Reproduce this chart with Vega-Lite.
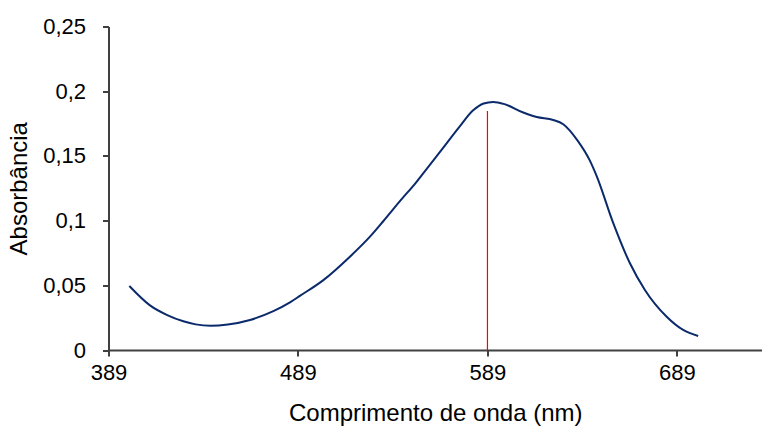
{
  "$schema": "https://vega.github.io/schema/vega-lite/v6.json",
  "autosize": "none",
  "width": 653.5,
  "height": 323.5,
  "padding": {"left": 108.5, "top": 26.5, "right": 0, "bottom": 85},
  "background": "white",
  "config": {
    "view": {"stroke": null},
    "font": "Liberation Sans",
    "axis": {
      "grid": false,
      "domainColor": "#404040",
      "domainWidth": 2,
      "tickColor": "#404040",
      "tickWidth": 2,
      "tickSize": 6,
      "labelFlush": false,
      "labelOverlap": false,
      "labelFont": "Liberation Sans",
      "titleFont": "Liberation Sans",
      "labelFontSize": 22,
      "titleFontSize": 24,
      "labelColor": "black",
      "titleColor": "black",
      "titleFontWeight": "normal"
    }
  },
  "datasets": {
    "curve": [
      {"nm": 400.0, "abs": 0.0495},
      {"nm": 410.9, "abs": 0.0345},
      {"nm": 420.0, "abs": 0.0270},
      {"nm": 428.5, "abs": 0.0222},
      {"nm": 435.0, "abs": 0.0198},
      {"nm": 443.0, "abs": 0.0187},
      {"nm": 452.0, "abs": 0.0197},
      {"nm": 463.7, "abs": 0.0232},
      {"nm": 476.0, "abs": 0.0300},
      {"nm": 485.0, "abs": 0.0370},
      {"nm": 490.0, "abs": 0.0418},
      {"nm": 502.4, "abs": 0.0540},
      {"nm": 516.4, "abs": 0.0721},
      {"nm": 527.0, "abs": 0.0876},
      {"nm": 534.0, "abs": 0.0995},
      {"nm": 542.8, "abs": 0.1150},
      {"nm": 551.6, "abs": 0.1300},
      {"nm": 555.1, "abs": 0.1365},
      {"nm": 565.5, "abs": 0.1560},
      {"nm": 574.5, "abs": 0.1730},
      {"nm": 581.3, "abs": 0.1850},
      {"nm": 587.0, "abs": 0.1905},
      {"nm": 592.0, "abs": 0.1917},
      {"nm": 598.0, "abs": 0.1900},
      {"nm": 607.9, "abs": 0.1835},
      {"nm": 615.0, "abs": 0.1800},
      {"nm": 623.7, "abs": 0.1778},
      {"nm": 629.0, "abs": 0.1745},
      {"nm": 636.5, "abs": 0.1620},
      {"nm": 643.0, "abs": 0.1465},
      {"nm": 646.6, "abs": 0.1345},
      {"nm": 655.4, "abs": 0.0980},
      {"nm": 664.2, "abs": 0.0670},
      {"nm": 672.1, "abs": 0.0464},
      {"nm": 683.6, "abs": 0.0257},
      {"nm": 692.3, "abs": 0.0155},
      {"nm": 700.2, "abs": 0.0108}
    ],
    "marker": [
      {"nm": 589, "y0": 0, "y1": 0.1847}
    ]
  },
  "layer": [
    {
      "mark": {"type": "rule", "stroke": "#000000", "strokeWidth": 2},
      "encoding": {
        "y": {"datum": 0.25, "type": "quantitative"}
      }
    },
    {
      "data": {"name": "curve"},
      "mark": {"type": "line", "interpolate": "monotone", "stroke": "#0b2a6b", "strokeWidth": 2},
      "encoding": {
        "x": {
          "field": "nm", "type": "quantitative",
          "scale": {"domain": [389, 733.9], "nice": false, "zero": false},
          "axis": {"values": [389, 489, 589, 689], "title": "Comprimento de onda (nm)", "labelPadding": 6, "titlePadding": 18}
        },
        "y": {
          "field": "abs", "type": "quantitative",
          "scale": {"domain": [0, 0.25], "nice": false},
          "axis": {
            "values": [0, 0.05, 0.1, 0.15, 0.2, 0.25],
            "labelExpr": "replace(toString(datum.value), '.', ',')",
            "title": "Absorbância", "labelPadding": 17, "titlePadding": 11
          }
        }
      }
    },
    {
      "data": {"name": "marker"},
      "mark": {"type": "rule", "color": "#ff0000", "stroke": "#ff0000", "strokeWidth": 1.2},
      "encoding": {
        "x": {"field": "nm", "type": "quantitative"},
        "y": {"field": "y0", "type": "quantitative"},
        "y2": {"field": "y1"}
      }
    }
  ]
}
